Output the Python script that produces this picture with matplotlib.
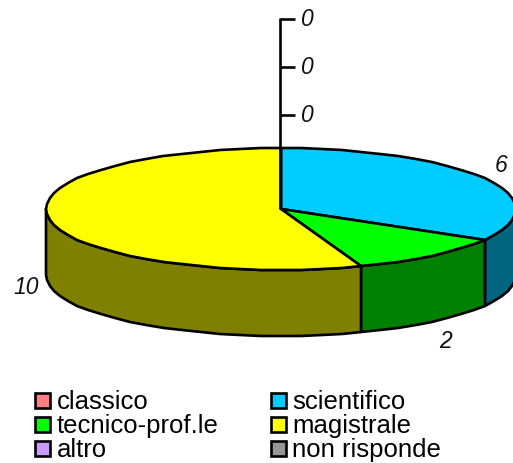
import matplotlib
matplotlib.use("Agg")
import matplotlib.pyplot as plt
from matplotlib.patches import Polygon, Rectangle
import numpy as np

categories = ["classico", "scientifico", "tecnico-prof.le", "magistrale", "altro", "non risponde"]
values = [0, 6, 2, 10, 0, 0]
top_colors = ["#FF8080", "#00CCFF", "#00FF00", "#FFFF00", "#CC99FF", "#969696"]
side_colors = ["#804040", "#006680", "#008000", "#808000", "#664D80", "#4B4B4B"]

# pixel geometry of the disc
CX, CY = 281, 209
RX, RY = 235, 61
DEPTH = 66
LW = 1.9


def rim(a0, a1):
    # short polygon segments on whole pixels, gives the jagged rim of the original
    n = max(2, int(abs(a1 - a0) / 5) + 1)
    ang = np.radians(np.linspace(a0, a1, n))
    return np.column_stack([np.round(CX + RX * np.cos(ang)), np.round(CY - RY * np.sin(ang))])


fig = plt.figure(figsize=(5.13, 4.63), dpi=100)
ax = fig.add_axes([0, 0, 1, 1])
ax.set_xlim(0, 513)
ax.set_ylim(463, 0)
ax.axis("off")

plt.rcParams["font.family"] = ["Liberation Sans", "DejaVu Sans"]

total = sum(values)
angles = 90 - np.cumsum([0] + values) / total * 360

# side walls first, only the front half of the rim shows
for i, v in enumerate(values):
    if v == 0:
        continue
    a0, a1 = angles[i], angles[i + 1]
    hi, lo = min(a0, 0), max(a1, -180)
    if hi <= lo:
        continue
    edge = rim(hi, lo)
    wall = np.vstack([edge, (edge + [0, DEPTH])[::-1]])
    ax.add_patch(Polygon(wall, closed=True, fc=side_colors[i], ec="black", lw=LW, joinstyle="round"))

# top faces
for i, v in enumerate(values):
    if v == 0:
        continue
    pts = np.vstack([[CX, CY], rim(angles[i], angles[i + 1])])
    ax.add_patch(Polygon(pts, closed=True, fc=top_colors[i], ec="black", lw=LW, joinstyle="round"))

# zero slices sit on the vertical leader above the centre
zero_ticks_y = [115, 67, 19]
ax.plot([CX - 1, CX - 1], [CY, zero_ticks_y[-1] - 1], color="black", lw=LW, solid_capstyle="butt")
for y in zero_ticks_y:
    ax.plot([CX - 1, CX + 14], [y, y], color="black", lw=LW, solid_capstyle="butt")

# value labels
label_font = dict(fontsize=16.5, style="italic", ha="center", va="center", color="#111111")
zero_label_y = [115.5, 67.5, 19.5]
for y in zero_label_y:
    ax.text(307, y, "0", **label_font)
ax.text(501, 165, str(values[1]), **label_font)
ax.text(446, 341, str(values[2]), **label_font)
ax.text(26, 287, str(values[3]), **label_font)

# legend, two columns of three
for i, name in enumerate(categories):
    col, row = i % 2, i // 2
    x = 34.5 + col * 236
    y = 393 + row * 24
    ax.add_patch(Rectangle((x, y), 15, 15, fc=top_colors[i], ec="black", lw=LW))
    ax.text(x + 22, y + 6.5, name, fontsize=18.5, ha="left", va="center_baseline", color="black")

fig.savefig("out.png", dpi=100)
plt.close(fig)
